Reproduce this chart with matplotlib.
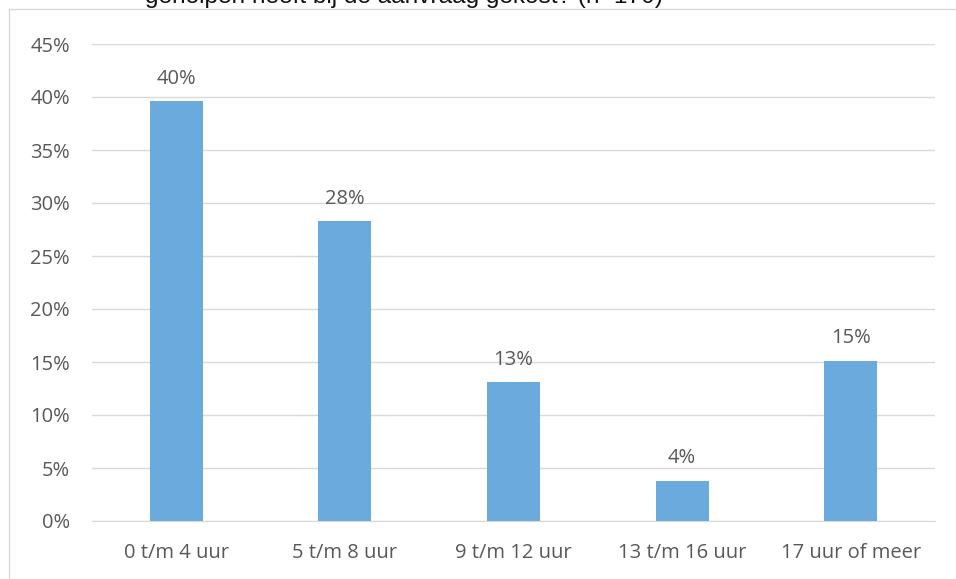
import matplotlib.pyplot as plt
from matplotlib.lines import Line2D

# --- data ---
categories = ['0 t/m 4 uur', '5 t/m 8 uur', '9 t/m 12 uur', '13 t/m 16 uur', '17 uur of meer']
values = [39.6, 28.3, 13.1, 3.8, 15.1]
labels = ['40%', '28%', '13%', '4%', '15%']
yticks = [0, 5, 10, 15, 20, 25, 30, 35, 40, 45]

W, H = 956, 579
BAR_COLOR = '#6aaadc'
TEXT_COLOR = '#595959'
GRID_COLOR = '#d9d9d9'
FS = 14.5

plt.rcParams['font.family'] = ['Open Sans', 'DejaVu Sans']

fig = plt.figure(figsize=(W / 100, H / 100), dpi=100)
# axes in pixel coordinates: x 92..935, y 44..521
ax = fig.add_axes([92 / W, 1 - 521 / H, (935 - 92) / W, (521 - 44) / H])

x = range(len(categories))
ax.bar(x, values, width=0.315, color=BAR_COLOR, zorder=3)
for xi, v, lab in zip(x, values, labels):
    ax.annotate(lab, (xi, v), xytext=(0, 9), textcoords='offset points',
                ha='center', va='bottom', fontsize=FS, color=TEXT_COLOR)

ax.set_xlim(-0.5, len(categories) - 0.5)
ax.set_ylim(0, 45)
ax.set_yticks(yticks)
ax.set_yticklabels([f'{t}%' for t in yticks])
ax.set_xticks(list(x))
ax.set_xticklabels(categories)
ax.tick_params(axis='both', length=0, labelsize=FS, labelcolor=TEXT_COLOR)
ax.tick_params(axis='y', pad=16)
ax.tick_params(axis='x', pad=16)
ax.yaxis.grid(True, color=GRID_COLOR, linewidth=1, zorder=0)
for s in ['top', 'right', 'left']:
    ax.spines[s].set_visible(False)
ax.spines['bottom'].set_color(GRID_COLOR)
ax.spines['bottom'].set_zorder(4)

# chart frame (left and top edges visible)
fig.add_artist(Line2D([9 / W, 9 / W], [0, 1 - 9 / H], transform=fig.transFigure,
                      color=GRID_COLOR, linewidth=1))
fig.add_artist(Line2D([9 / W, 1], [1 - 9 / H, 1 - 9 / H], transform=fig.transFigure,
                      color=GRID_COLOR, linewidth=1))

# cut-off title from the page above
fig.text(145 / W, 1 - 3.5 / H, 'geholpen heeft bij de aanvraag gekost? (n=170)',
         ha='left', va='baseline', fontsize=17.6, color='#111111',
         family=['Liberation Sans', 'DejaVu Sans'])

fig.savefig('out.png', dpi=100)
